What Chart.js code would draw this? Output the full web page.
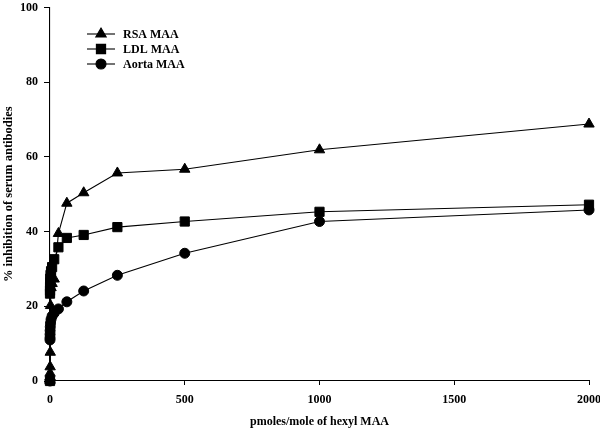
<!DOCTYPE html>
<html>
<head>
<meta charset="utf-8">
<script src="https://cdn.jsdelivr.net/npm/chart.js@4.4.1/dist/chart.umd.min.js"></script>
<style>
  html, body { margin: 0; padding: 0; background: #fff; }
  #wrap { width: 600px; height: 429px; }
</style>
</head>
<body>
<div id="wrap"><canvas id="myChart" width="600" height="429"></canvas></div>
<script>
// dilution series (pmoles/mole of hexyl MAA)
const doses = [2000, 1000, 500, 250, 125, 62.5, 31.25, 15.6, 7.8, 3.9, 1.95, 0.98, 0.49, 0.24, 0.12, 0.06, 0];

const rsaValues   = [68.8, 61.9, 56.7, 55.7, 50.4, 47.6, 39.5, 27.3, 26.1, 25.0, 20.2, 7.7, 3.8, 2.1, 1.1, 0.3, 0];
const ldlValues   = [47.2, 45.3, 42.7, 41.2, 39.1, 38.3, 35.8, 32.6, 30.5, 29.4, 28.4, 27.4, 26.4, 25.2, 24.2, 23.4, 0];
const aortaValues = [45.8, 42.7, 34.2, 28.3, 24.1, 21.2, 19.3, 18.2, 17.4, 16.5, 15.5, 14.5, 13.5, 12.5, 11.6, 11.0, 0];

const seriesLabels = ['RSA MAA', 'LDL MAA', 'Aorta MAA'];
const xTicks = [0, 500, 1000, 1500, 2000];
const yTicks = [0, 20, 40, 60, 80, 100];

const fontFam = '"Liberation Serif", "Times New Roman", serif';

function toPoints(vals) {
	return doses.map((d, i) => ({ x: d, y: vals[i] }));
}

function makeSet(label, vals, style, radius) {
	return {
		label: label,
		data: toPoints(vals),
		borderColor: '#000',
		backgroundColor: '#000',
		borderWidth: 1.1,
		pointStyle: style,
		pointRadius: radius,
		pointBorderWidth: 1,
		pointBackgroundColor: '#000',
		pointBorderColor: '#000',
		tension: 0,
		clip: false
	};
}

// legend drawn inside the plot, top left
const innerLegend = {
	id: 'innerLegend',
	afterDatasetsDraw(chart) {
		const ctx = chart.ctx;
		const x0 = 87, x1 = 115, tx = 123;
		const rows = [34, 49, 64];
		ctx.save();
		chart.data.datasets.forEach((ds, i) => {
			const y = rows[i];
			ctx.strokeStyle = '#000';
			ctx.lineWidth = 1.1;
			ctx.beginPath();
			ctx.moveTo(x0, y);
			ctx.lineTo(x1, y);
			ctx.stroke();
			Chart.helpers.drawPoint(ctx, {
				pointStyle: ds.pointStyle,
				radius: ds.pointRadius,
				borderWidth: 1
			}, (x0 + x1) / 2, y);
			ctx.fillStyle = '#000';
			ctx.font = 'bold 12px ' + fontFam;
			ctx.textBaseline = 'middle';
			ctx.fillText(ds.label, tx, y + 1);
		});
		ctx.restore();
	}
};

const ctx = document.getElementById('myChart').getContext('2d');
let myChart = new Chart(ctx, {
	type: 'line',
	data: {
		datasets: [
			makeSet(seriesLabels[0], rsaValues, 'triangle', 6),
			makeSet(seriesLabels[1], ldlValues, 'rect', 6.5),
			makeSet(seriesLabels[2], aortaValues, 'circle', 5)
		]
	},
	plugins: [innerLegend],
	options: {
		responsive: false,
		animation: false,
		layout: { padding: { top: 2, right: 11, bottom: 0, left: 0 } },
		plugins: {
			legend: { display: false },
			tooltip: { enabled: false }
		},
		scales: {
			x: {
				type: 'linear',
				min: 0,
				max: 2000,
				afterBuildTicks: (axis) => { axis.ticks = xTicks.map(v => ({ value: v })); },
				afterFit: (axis) => { axis.height = 48; axis.paddingLeft = 0; axis.paddingRight = 0; },
				grid: { drawOnChartArea: false, drawTicks: true, tickLength: 4, color: '#000', lineWidth: 1 },
				border: { color: '#000', width: 1.1 },
				ticks: { color: '#000', font: { family: fontFam, size: 12, weight: 'bold' }, padding: 8, maxRotation: 0, callback: (v) => String(v) },
				title: { display: true, text: 'pmoles/mole of hexyl MAA', color: '#000', font: { family: fontFam, size: 12, weight: 'bold' }, padding: { top: 4, bottom: 0 } }
			},
			y: {
				min: 0,
				max: 100,
				afterBuildTicks: (axis) => { axis.ticks = yTicks.map(v => ({ value: v })); },
				afterFit: (axis) => { axis.width = 50; axis.paddingTop = 0; axis.paddingBottom = 0; },
				grid: { drawOnChartArea: false, drawTicks: true, tickLength: 6, color: '#000', lineWidth: 1 },
				border: { color: '#000', width: 1.1 },
				ticks: { color: '#000', font: { family: fontFam, size: 12, weight: 'bold' }, padding: 6, callback: (v) => String(v) },
				title: { display: true, text: '% inhibition of serum antibodies', color: '#000', font: { family: fontFam, size: 12.5, weight: 'bold' }, padding: { top: 1, bottom: 0 } }
			}
		}
	}
});
</script>
</body>
</html>
